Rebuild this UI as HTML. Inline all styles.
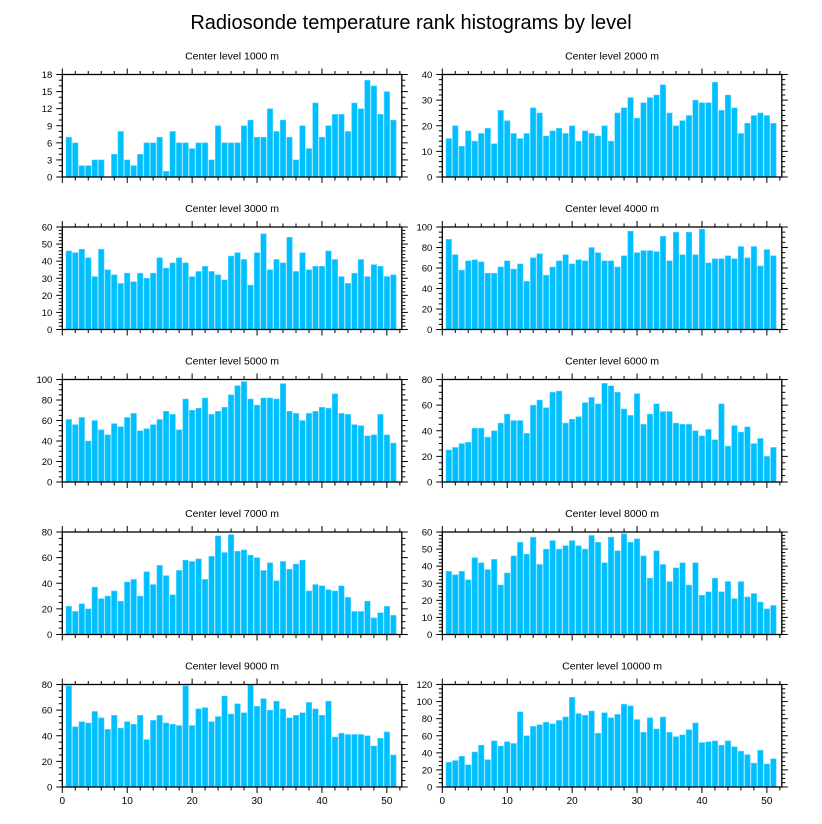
<!DOCTYPE html>
<html><head><meta charset="utf-8">
<style>
html,body{margin:0;padding:0;background:#fff;}
svg{display:block;font-family:"Liberation Sans",Arial,sans-serif;}
</style></head>
<body>
<svg id="chart" width="822" height="824" viewBox="0 0 822 824" xmlns="http://www.w3.org/2000/svg">
<text x="411" y="29" text-anchor="middle" font-size="20" fill="#000">Radiosonde temperature rank histograms by level</text>
</svg>
<script>
const levels = ["1000","2000","3000","4000","5000","6000","7000","8000","9000","10000"];
const yMaxes = [18,40,60,100,100,80,80,60,80,120];
const ySteps = [3,10,10,20,20,20,20,10,20,20];
const yMinorDiv = [3,5,5,4,4,4,4,5,4,4];
const xTicks = [0,10,20,30,40,50];
const v1000 = [7,6,2,2,3,3,0,4,8,3,2,4,6,6,7,1,8,6,6,5,6,6,3,9,6,6,6,9,10,7,7,12,8,10,7,3,9,5,13,7,9,11,11,8,13,12,17,16,11,15,10];
const v2000 = [15,20,12,18,14,17,19,13,26,22,17,15,17,27,25,16,18,19,17,20,14,18,17,16,20,14,25,27,31,23,29,31,32,36,25,20,22,24,30,29,29,37,26,32,27,17,21,24,25,24,21];
const v3000 = [46,45,47,42,31,47,35,32,27,33,28,33,30,33,42,36,39,42,39,31,34,37,34,32,29,43,45,41,26,45,56,35,41,39,54,34,45,35,37,37,46,41,31,27,33,41,31,38,37,31,32];
const v4000 = [88,73,58,67,68,66,55,55,61,67,59,64,47,70,74,53,61,67,73,64,68,67,80,75,67,67,61,72,96,75,77,77,76,91,67,95,73,95,73,98,65,69,69,72,69,81,70,81,62,78,72];
const v5000 = [61,56,63,40,60,51,46,57,54,63,67,50,52,56,61,69,66,51,81,70,72,82,66,69,73,85,94,98,81,75,82,82,81,96,69,67,60,67,69,73,72,86,67,66,56,55,45,46,66,46,38];
const v6000 = [25,27,30,31,42,42,35,40,46,53,48,48,38,60,64,58,70,71,46,49,51,62,66,61,77,75,70,57,52,69,45,53,61,55,55,46,45,45,40,36,41,33,61,28,44,39,43,30,34,20,27];
const v7000 = [22,18,24,20,37,28,30,34,26,41,43,30,49,39,54,46,31,50,58,57,59,43,61,77,64,78,65,66,62,60,50,56,42,57,51,55,58,34,39,38,35,34,38,29,18,18,26,13,17,22,15];
const v8000 = [37,35,37,32,45,42,38,44,29,36,46,54,47,57,41,50,55,50,52,55,52,50,58,54,42,57,49,59,54,56,46,33,49,41,31,39,42,29,42,23,25,33,25,31,21,31,22,24,19,15,17];
const v9000 = [79,47,51,50,59,54,45,56,46,51,49,56,37,52,56,50,49,48,79,48,61,62,51,55,71,57,65,58,80,63,69,60,67,61,54,56,58,66,61,56,67,39,42,41,41,41,40,32,38,43,25];
const v10000 = [29,31,36,26,41,49,32,54,48,53,51,88,60,71,73,76,74,78,82,105,86,84,89,63,87,81,85,97,95,79,64,81,68,82,64,59,61,67,75,52,53,54,49,54,47,42,38,28,43,27,33];
const seriesList = [v1000,v2000,v3000,v4000,v5000,v6000,v7000,v8000,v9000,v10000];

const NS = "http://www.w3.org/2000/svg";
const svg = document.getElementById('chart');
function mk(tag, attrs, parent){const e=document.createElementNS(NS,tag);for(const k in attrs)e.setAttribute(k,attrs[k]);(parent||svg).appendChild(e);return e;}
const XMIN=0, XMAX=52.3, W=339.5, H=102.5;
const lefts=[62.3,442.3], tops=[74.5,227,379.5,532,684.5];

seriesList.forEach((vals,p)=>{
  const L=lefts[p%2], T=tops[Math.floor(p/2)];
  const ymax=yMaxes[p];
  const xs=v=>L+(v-XMIN)/(XMAX-XMIN)*W;
  const ys=v=>T+H-v/ymax*H;
  const g=mk('g',{});
  
  
  const t=mk('text',{x:L+W/2,y:T-15,'text-anchor':'middle','font-size':'10.5',fill:'#000'},g);
  t.textContent='Center level '+levels[p]+' m';
  
  
  vals.forEach((v,i)=>{
    const cx=xs(i+1), bw=(xs(0.86)-xs(0));
    const r=mk('rect',{x:cx-bw/2,y:ys(v),width:bw,height:ys(0)-ys(v),fill:'#00bfff',stroke:'#5fd6ff','stroke-width':'0.5'},g);
    
    
  });
  const fr=mk('rect',{x:L,y:T,width:W,height:H,fill:'none',stroke:'#000','stroke-width':'1.3'},g);
  
  
  // x ticks
  for(let x=0;x<=52;x+=2){
    const major=x%10===0, len=major?6:3.5;
    mk('line',{x1:xs(x),x2:xs(x),y1:T+H,y2:T+H+len,stroke:'#000','stroke-width':'1'},g);
    mk('line',{x1:xs(x),x2:xs(x),y1:T,y2:T-len,stroke:'#000','stroke-width':'1'},g);
  }
  if(Math.floor(p/2)===4){
    xTicks.forEach(x=>{
      const tl=mk('text',{x:xs(x),y:T+H+17,'text-anchor':'middle','font-size':'10',fill:'#000'},g);
      tl.textContent=x;
      
      
    });
  }
  // y ticks
  const step=ySteps[p], md=yMinorDiv[p];
  for(let k=0;k<=ymax/step*md;k++){
    const y=k*step/md, major=k%md===0, len=major?6:3.5;
    mk('line',{x1:L,x2:L-len,y1:ys(y),y2:ys(y),stroke:'#000','stroke-width':'1'},g);
    mk('line',{x1:L+W,x2:L+W+len,y1:ys(y),y2:ys(y),stroke:'#000','stroke-width':'1'},g);
    if(major){
      const yl=mk('text',{x:L-10,y:ys(y)+3.5,'text-anchor':'end','font-size':'9.5',fill:'#000'},g);
      yl.textContent=Math.round(y);
      
      
    }
  }
});
</script>
</body></html>
